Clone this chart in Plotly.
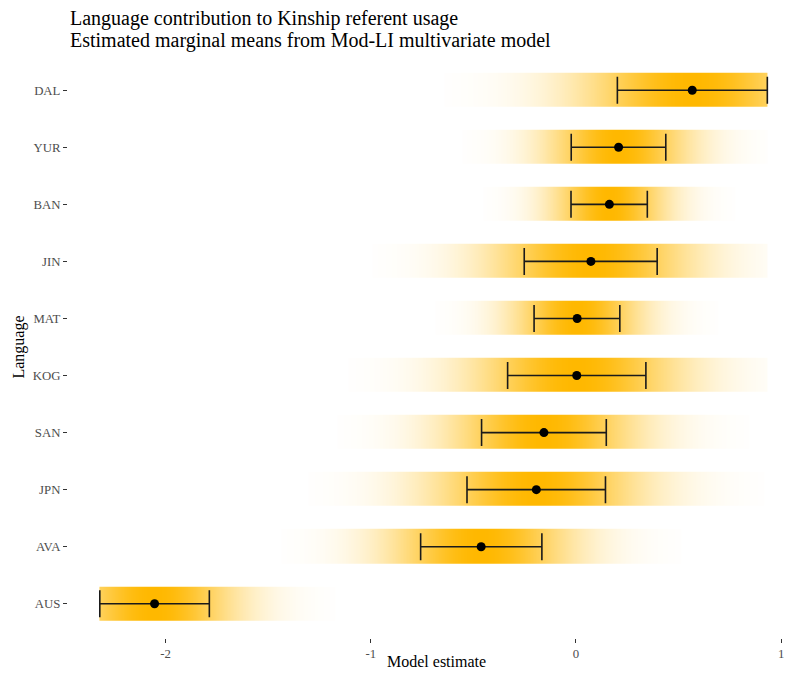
import numpy as np
import plotly.graph_objects as go

# ---- data ----
languages = ["AUS", "AVA", "JPN", "SAN", "KOG", "MAT", "JIN", "BAN", "YUR", "DAL"]
estimate = [-2.054, -0.462, -0.193, -0.156, 0.004, 0.006, 0.073, 0.163, 0.208, 0.567]
lower = [-2.321, -0.757, -0.531, -0.460, -0.333, -0.204, -0.252, -0.024, -0.023, 0.202]
upper = [-1.787, -0.166, 0.144, 0.148, 0.341, 0.214, 0.396, 0.348, 0.438, 0.933]
x_tick_vals = [-2, -1, 0, 1]
x_tick_labels = ["-2", "-1", "0", "1"]

title_lines = ["Language contribution to Kinship referent usage",
               "Estimated marginal means from Mod-LI multivariate model"]
x_title = "Model estimate"
y_title = "Language"

ORANGE = "rgb(255,184,0)"
FONT = "Liberation Serif, Times New Roman, serif"

# the page has an 8px body margin; keep the figure inside the visible window
W, H = 778, 665
ML, MR, MT, MB = 60, 0, 48, 35
PW = W - ML - MR
PH = H - MT - MB

est = np.array(estimate)
lo = np.array(lower)
hi = np.array(upper)
hw = (hi - lo) / 2.0

# gradient slab evaluated over the data limits (like ggdist)
data_lo, data_hi = lo.min(), hi.max()
xg = np.linspace(data_lo, data_hi, 900)
z = []
for m, h in zip(est, hw):
    d = (xg - m) / (1.05 * h)
    row = np.exp(-0.5 * d ** 2)
    row = np.where(np.abs(xg - m) <= 3.3 * h, row, np.nan)
    z.append([None if np.isnan(v) else float(v) for v in row])

fig = go.Figure()
fig.add_trace(go.Heatmap(
    x=xg, y=languages, z=z,
    colorscale=[[0, "rgb(255,255,255)"], [1, ORANGE]],
    zmin=0, zmax=1, showscale=False, ygap=23,
    hoverinfo="skip", zsmooth=False,
))
fig.add_trace(go.Scatter(
    x=estimate, y=languages, mode="markers",
    marker=dict(color="black", size=9),
    error_x=dict(type="data", symmetric=False,
                 array=list(hi - est), arrayminus=list(est - lo),
                 color="#1a1a1a", thickness=1.6, width=13.5),
    showlegend=False,
))

def ypaper(yfig):
    return (H - MB - yfig) / PH

for txt, yc in zip(title_lines, [10, 32]):
    fig.add_annotation(text=txt, xref="paper", x=0, xanchor="left",
                       yref="paper", y=ypaper(yc), yanchor="middle",
                       showarrow=False,
                       font=dict(size=20, family=FONT, color="black"))

# x-axis title (placed as in the reference, where the panel runs past the right edge)
fig.add_annotation(text=x_title, xref="paper", x=(436 - 8 - ML) / PW, xanchor="center",
                   yref="paper", y=ypaper(653), yanchor="middle", showarrow=False,
                   font=dict(size=16, family=FONT, color="black"))

fig.update_layout(
    width=W, height=H,
    margin=dict(l=ML, r=MR, t=MT, b=MB, autoexpand=False),
    paper_bgcolor="white", plot_bgcolor="white",
    font=dict(family=FONT, color="black"),
    showlegend=False,
)
fig.update_xaxes(
    range=[-2.476, 1.024], showgrid=False, zeroline=False, showline=False,
    automargin=False, ticklabeloverflow="allow",
    tickmode="array", tickvals=x_tick_vals, ticktext=x_tick_labels,
    ticks="outside", ticklen=4, tickwidth=1.1, tickcolor="#333333",
    tickfont=dict(size=12.8, color="#4D4D4D", family=FONT),
)
fig.update_yaxes(
    type="category", categoryorder="array", categoryarray=languages,
    range=[-0.6, 9.6], showgrid=False, zeroline=False, showline=False,
    automargin=False,
    ticks="outside", ticklen=4, tickwidth=1.1, tickcolor="#333333",
    tickfont=dict(size=12.8, color="#4D4D4D", family=FONT),
    title=dict(text=y_title, font=dict(size=16, family=FONT, color="black"), standoff=4),
)

fig.write_html("out.html")
